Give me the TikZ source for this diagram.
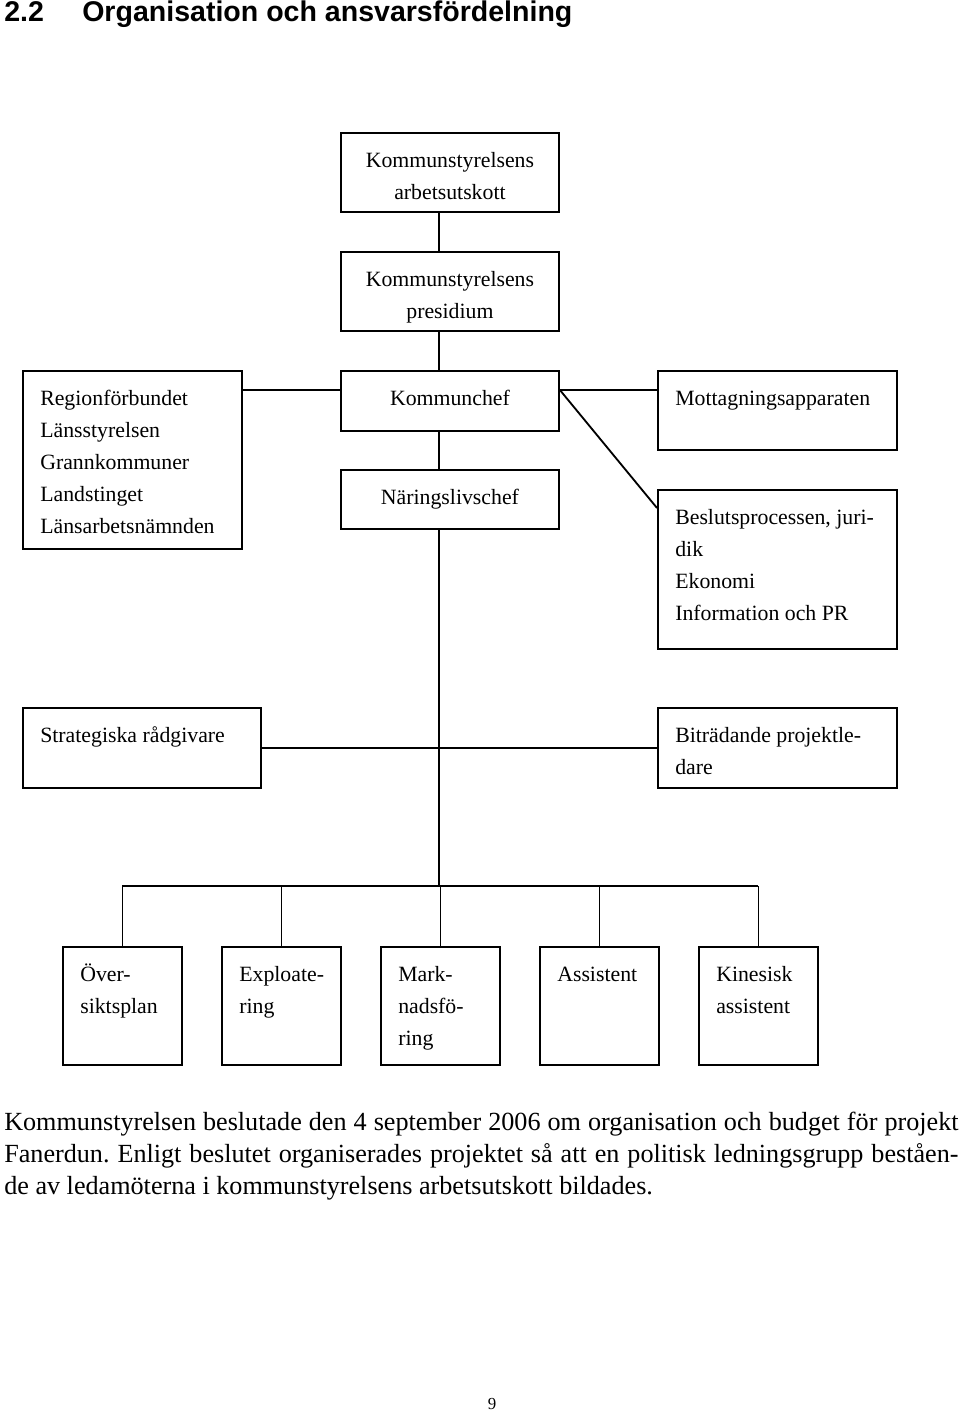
\documentclass[tikz,border=0pt]{standalone}
\usepackage{fontspec}
\setmainfont{Liberation Serif}
\setsansfont{Liberation Sans}
\usetikzlibrary{positioning}
\frenchspacing

\begin{document}
\begin{tikzpicture}[
    % GLOBAL CFG
    x=0.025cm, y=-0.025cm,
    % Styles
    unit/.style={% For organisation boxes
        rectangle,
        draw=black,
        line width=1.3pt,
        anchor=north west,
        inner sep=0pt,
    },
    unittext/.style={% For text inside boxes
        font=\fontsize{15.5}{22.76}\selectfont,
        inner sep=0pt,
    },
    bodytext/.style={% For the paragraph below the chart
        font=\fontsize{18.6}{22.76}\selectfont,
        inner sep=0pt,
    },
    heading/.style={% For the section heading
        font=\sffamily\bfseries\fontsize{20.3}{24}\selectfont,
        inner sep=0pt,
        anchor=base west,
    },
    Link/.style={% Plain connecting lines
        line width=1.3pt,
    },
    ]
    \useasboundingbox (0,0) rectangle (960,1411);

    % Coordinates
    \coordinate (spine) at (439,0);
    \coordinate (tier) at (0,390);
    \coordinate (bus) at (0,886);

    % Heading
    \node[heading] (secnum) at (4,22) {2.2};
    \node[heading] (sectitle) at (82,22) {Organisation och ansvarsfördelning};

    % Draw boxes
    \node[unit, minimum width=5.45cm, minimum height=1.975cm] (ksau) at (340,132) {};
    \node[unit, minimum width=5.45cm, minimum height=1.975cm] (ksp) at (340,251) {};
    \node[unit, minimum width=5.475cm, minimum height=4.45cm] (region) at (22,370) {};
    \node[unit, minimum width=5.45cm, minimum height=1.5cm] (kchef) at (340,370) {};
    \node[unit, minimum width=5.45cm, minimum height=1.475cm] (naring) at (340,469) {};
    \node[unit, minimum width=5.975cm, minimum height=1.975cm] (mott) at (657,370) {};
    \node[unit, minimum width=5.975cm, minimum height=3.975cm] (beslut) at (657,489) {};
    \node[unit, minimum width=5.95cm, minimum height=2cm] (strat) at (22,707) {};
    \node[unit, minimum width=5.975cm, minimum height=2cm] (bitr) at (657,707) {};

    % Text of boxes
    \node[unittext, anchor=north, align=center] (ksau-t) at ([shift={(0,12.6)}]ksau.north) {\strut Kommunstyrelsens\\arbetsutskott};
    \node[unittext, anchor=north, align=center] (ksp-t) at ([shift={(0,12.6)}]ksp.north) {\strut Kommunstyrelsens\\presidium};
    \node[unittext, anchor=north west, align=left] (region-t) at ([shift={(18,12.6)}]region.north west) {\strut Regionförbundet\\Länsstyrelsen\\Grannkommuner\\Landstinget\\Länsarbetsnämnden};
    \node[unittext, anchor=north, align=center] (kchef-t) at ([shift={(0,12.6)}]kchef.north) {\strut Kommunchef};
    \node[unittext, anchor=north, align=center] (naring-t) at ([shift={(0,12.6)}]naring.north) {\strut Näringslivschef};
    \node[unittext, anchor=north west, align=left] (mott-t) at ([shift={(18,12.6)}]mott.north west) {\strut Mottagningsapparaten};
    \node[unittext, anchor=north west, align=left] (beslut-t) at ([shift={(18,12.6)}]beslut.north west) {\strut Beslutsprocessen, juri-\\dik\\Ekonomi\\Information och PR};
    \node[unittext, anchor=north west, align=left] (strat-t) at ([shift={(18,12.6)}]strat.north west) {\strut Strategiska rådgivare};
    \node[unittext, anchor=north west, align=left] (bitr-t) at ([shift={(18,12.6)}]bitr.north west) {\strut Biträdande projektle-\\dare};

    % Draw project group boxes
    \foreach \x/\n/\t in {62/ovr/{Över-\\siktsplan}, 221/expl/{Exploate-\\ring},
        380/mark/{Mark-\\nadsfö-\\ring}, 539/ass/{Assistent}, 698/kin/{Kinesisk\\assistent}}{
        \node[unit, minimum width=2.975cm, minimum height=2.95cm] (\n) at (\x,946) {};
        \node[unittext, anchor=north west, align=left] (\n-t) at ([shift={(18,12.6)}]\n.north west) {\strut\t};
    }

    % Connect all
    \draw[Link] (ksau.south -| spine) -- (ksp.north -| spine);
    \draw[Link] (ksp.south -| spine) -- (kchef.north -| spine);
    \draw[Link] (kchef.south -| spine) -- (naring.north -| spine);
    \draw[Link] (naring.south -| spine) -- (spine |- bus);
    \draw[Link] (region.east |- tier) -- (kchef.west |- tier);
    \draw[Link] (kchef.east |- tier) -- (mott.west |- tier);
    \draw[Link] (kchef.east |- tier) -- ([shift={(0,19)}]beslut.north west);
    \draw[Link] (strat.east) -- (bitr.west);
    \draw[Link] (ovr.north |- bus) -- (kin.north |- bus);
    \foreach \n in {ovr,expl,mark,ass,kin}
        \draw[Link] (\n.north) -- (\n.north |- bus);

    % Paragraph and page number
    \node[bodytext, anchor=north west, text width=23.85cm, align=justify] (para) at (4,1107.6) {\strut Kommunstyrelsen beslutade den 4 september 2006 om organisation och budget för projekt\linebreak Fanerdun. Enligt beslutet organiserades projektet så att en politisk ledningsgrupp beståen-\linebreak de av ledamöterna i kommunstyrelsens arbetsutskott bildades.};
    \node[font=\fontsize{12}{14}\selectfont, inner sep=0pt, anchor=base] (pagenum) at (492,1409) {9};

\end{tikzpicture}
\end{document}
